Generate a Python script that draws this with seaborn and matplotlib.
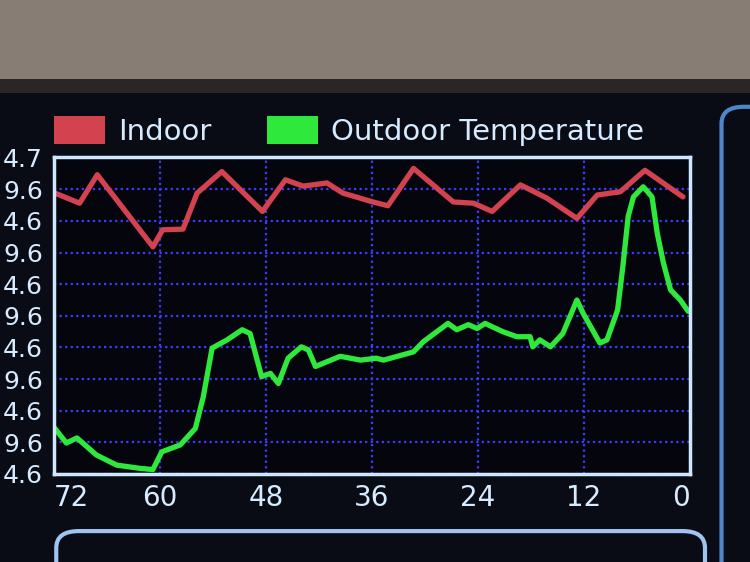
import matplotlib
matplotlib.use("Agg")
import pandas as pd
import seaborn as sns
import matplotlib.pyplot as plt
from matplotlib.patches import Patch, Rectangle, FancyBboxPatch

indoor_hours = [71.9, 69.1, 67.1, 60.8, 59.7, 57.4, 55.8, 53.0, 48.4, 45.8, 43.8,
                41.1, 39.3, 35.9, 34.2, 31.3, 26.8, 24.5, 22.4, 19.2, 16.2, 12.8,
                10.5, 7.9, 5.1, 0.8]
indoor_temp = [69.0, 67.4, 71.9, 60.5, 63.2, 63.3, 69.0, 72.4, 66.1, 71.1, 70.1,
               70.6, 69.0, 67.6, 67.0, 72.9, 67.6, 67.4, 66.1, 70.3, 68.2, 65.0,
               68.7, 69.2, 72.6, 68.4]

outdoor_hours = [71.9, 70.6, 69.4, 67.2, 64.9, 62.3, 60.8, 59.8, 57.7, 56.0, 55.1,
                 54.1, 52.4, 50.7, 49.8, 48.5, 47.5, 46.6, 45.5, 44.0, 43.2, 42.4,
                 39.6, 37.3, 35.5, 34.7, 31.3, 30.2, 27.4, 26.4, 25.1, 24.1, 23.2,
                 21.2, 19.6, 18.1, 17.8, 17.0, 15.8, 14.4, 12.8, 12.1, 10.2, 9.4,
                 8.2, 7.6, 7.0, 6.4, 5.3, 4.3, 3.7, 3.0, 2.2, 1.1, 0.2]
outdoor_temp = [31.8, 29.5, 30.3, 27.6, 26.0, 25.5, 25.3, 28.1, 29.2, 31.8, 36.8,
                44.5, 45.8, 47.4, 46.8, 40.0, 40.5, 38.9, 42.9, 44.7, 44.2, 41.6,
                43.2, 42.6, 42.9, 42.6, 43.9, 45.5, 48.4, 47.4, 48.2, 47.6, 48.4,
                47.1, 46.3, 46.3, 44.7, 45.8, 44.7, 46.8, 52.1, 50.0, 45.3, 45.8,
                50.5, 57.4, 65.3, 68.4, 70.0, 68.4, 62.6, 57.9, 53.7, 52.1, 50.3]

x_ticks = [72, 60, 48, 36, 24, 12, 0]
y_ticks = [24.6, 29.6, 34.6, 39.6, 44.6, 49.6, 54.6, 59.6, 64.6, 69.6, 74.7]
# the photo crops the leading digit of each y label; only this part shows
y_labels = ["4.6", "9.6", "4.6", "9.6", "4.6", "9.6", "4.6", "9.6", "4.6", "9.6", "4.7"]
series_names = ["Indoor", "Outdoor Temperature"]

indoor_color = "#d2434f"
outdoor_color = "#2fe83c"
text_color = "#d6ebff"
grid_color = "#3c3cff"

df = pd.concat([
    pd.DataFrame({"hours": indoor_hours, "temp": indoor_temp, "series": series_names[0]}),
    pd.DataFrame({"hours": outdoor_hours, "temp": outdoor_temp, "series": series_names[1]}),
])

sns.set_style("dark")
plt.rcParams['font.family'] = ['DejaVu Sans']

fig = plt.figure(figsize=(7.5, 5.62), dpi=100, facecolor="#0a0c15")

# photo surroundings: bezel on top, screen panels at the right and bottom
fig.patches.append(Rectangle((0, 0.86), 1, 0.14, transform=fig.transFigure,
                             facecolor="#877d75", edgecolor="none", zorder=0))
fig.patches.append(Rectangle((0, 0.835), 1, 0.025, transform=fig.transFigure,
                             facecolor="#2a2625", edgecolor="none", zorder=0))
fig.patches.append(FancyBboxPatch((0.962, -0.05), 0.1, 0.86, transform=fig.transFigure,
                                  boxstyle="round,pad=0,rounding_size=0.03",
                                  facecolor="#0a0c15", edgecolor="#4f86c8",
                                  linewidth=3, zorder=1))
fig.patches.append(FancyBboxPatch((0.075, -0.05), 0.865, 0.105, transform=fig.transFigure,
                                  boxstyle="round,pad=0,rounding_size=0.03",
                                  facecolor="#0a0c15", edgecolor="#9fc4ee",
                                  linewidth=3, zorder=1))

ax = fig.add_axes([0.072, 0.1566, 0.848, 0.564])
ax.set_facecolor("#05060d")

sns.lineplot(data=df, x="hours", y="temp", hue="series",
             palette=[indoor_color, outdoor_color], linewidth=3.8,
             legend=False, ax=ax)

ax.set_xlim(72, 0)
ax.set_ylim(y_ticks[0], y_ticks[-1])
ax.set_xticks(x_ticks)
ax.set_xticklabels([str(t) for t in x_ticks])
ax.set_yticks(y_ticks)
ax.set_yticklabels(y_labels)
ax.set_xlabel("")
ax.set_ylabel("")

ax.tick_params(axis="x", colors=text_color, labelsize=20, length=0, pad=7)
ax.tick_params(axis="y", colors=text_color, labelsize=18, length=0, pad=8)
xlabels = ax.get_xticklabels()
xlabels[0].set_horizontalalignment("left")
xlabels[-1].set_horizontalalignment("right")

ax.grid(True, color=grid_color, linestyle=(0, (1, 1.5)), linewidth=1.6)
for s in ax.spines.values():
    s.set_visible(True)
    s.set_color("#cfe6ff")
    s.set_linewidth(2.5)

handles = [Patch(facecolor=indoor_color, edgecolor="none"),
           Patch(facecolor=outdoor_color, edgecolor="none")]
ax.legend(handles=handles, labels=series_names, loc="lower left",
          bbox_to_anchor=(0.0, 1.035), ncol=2, frameon=False, fontsize=21,
          labelcolor=text_color, handlelength=1.75, handleheight=1.05,
          handletextpad=0.45, columnspacing=1.9, borderpad=0, borderaxespad=0)

fig.savefig("out.png", dpi=100, facecolor=fig.get_facecolor())
